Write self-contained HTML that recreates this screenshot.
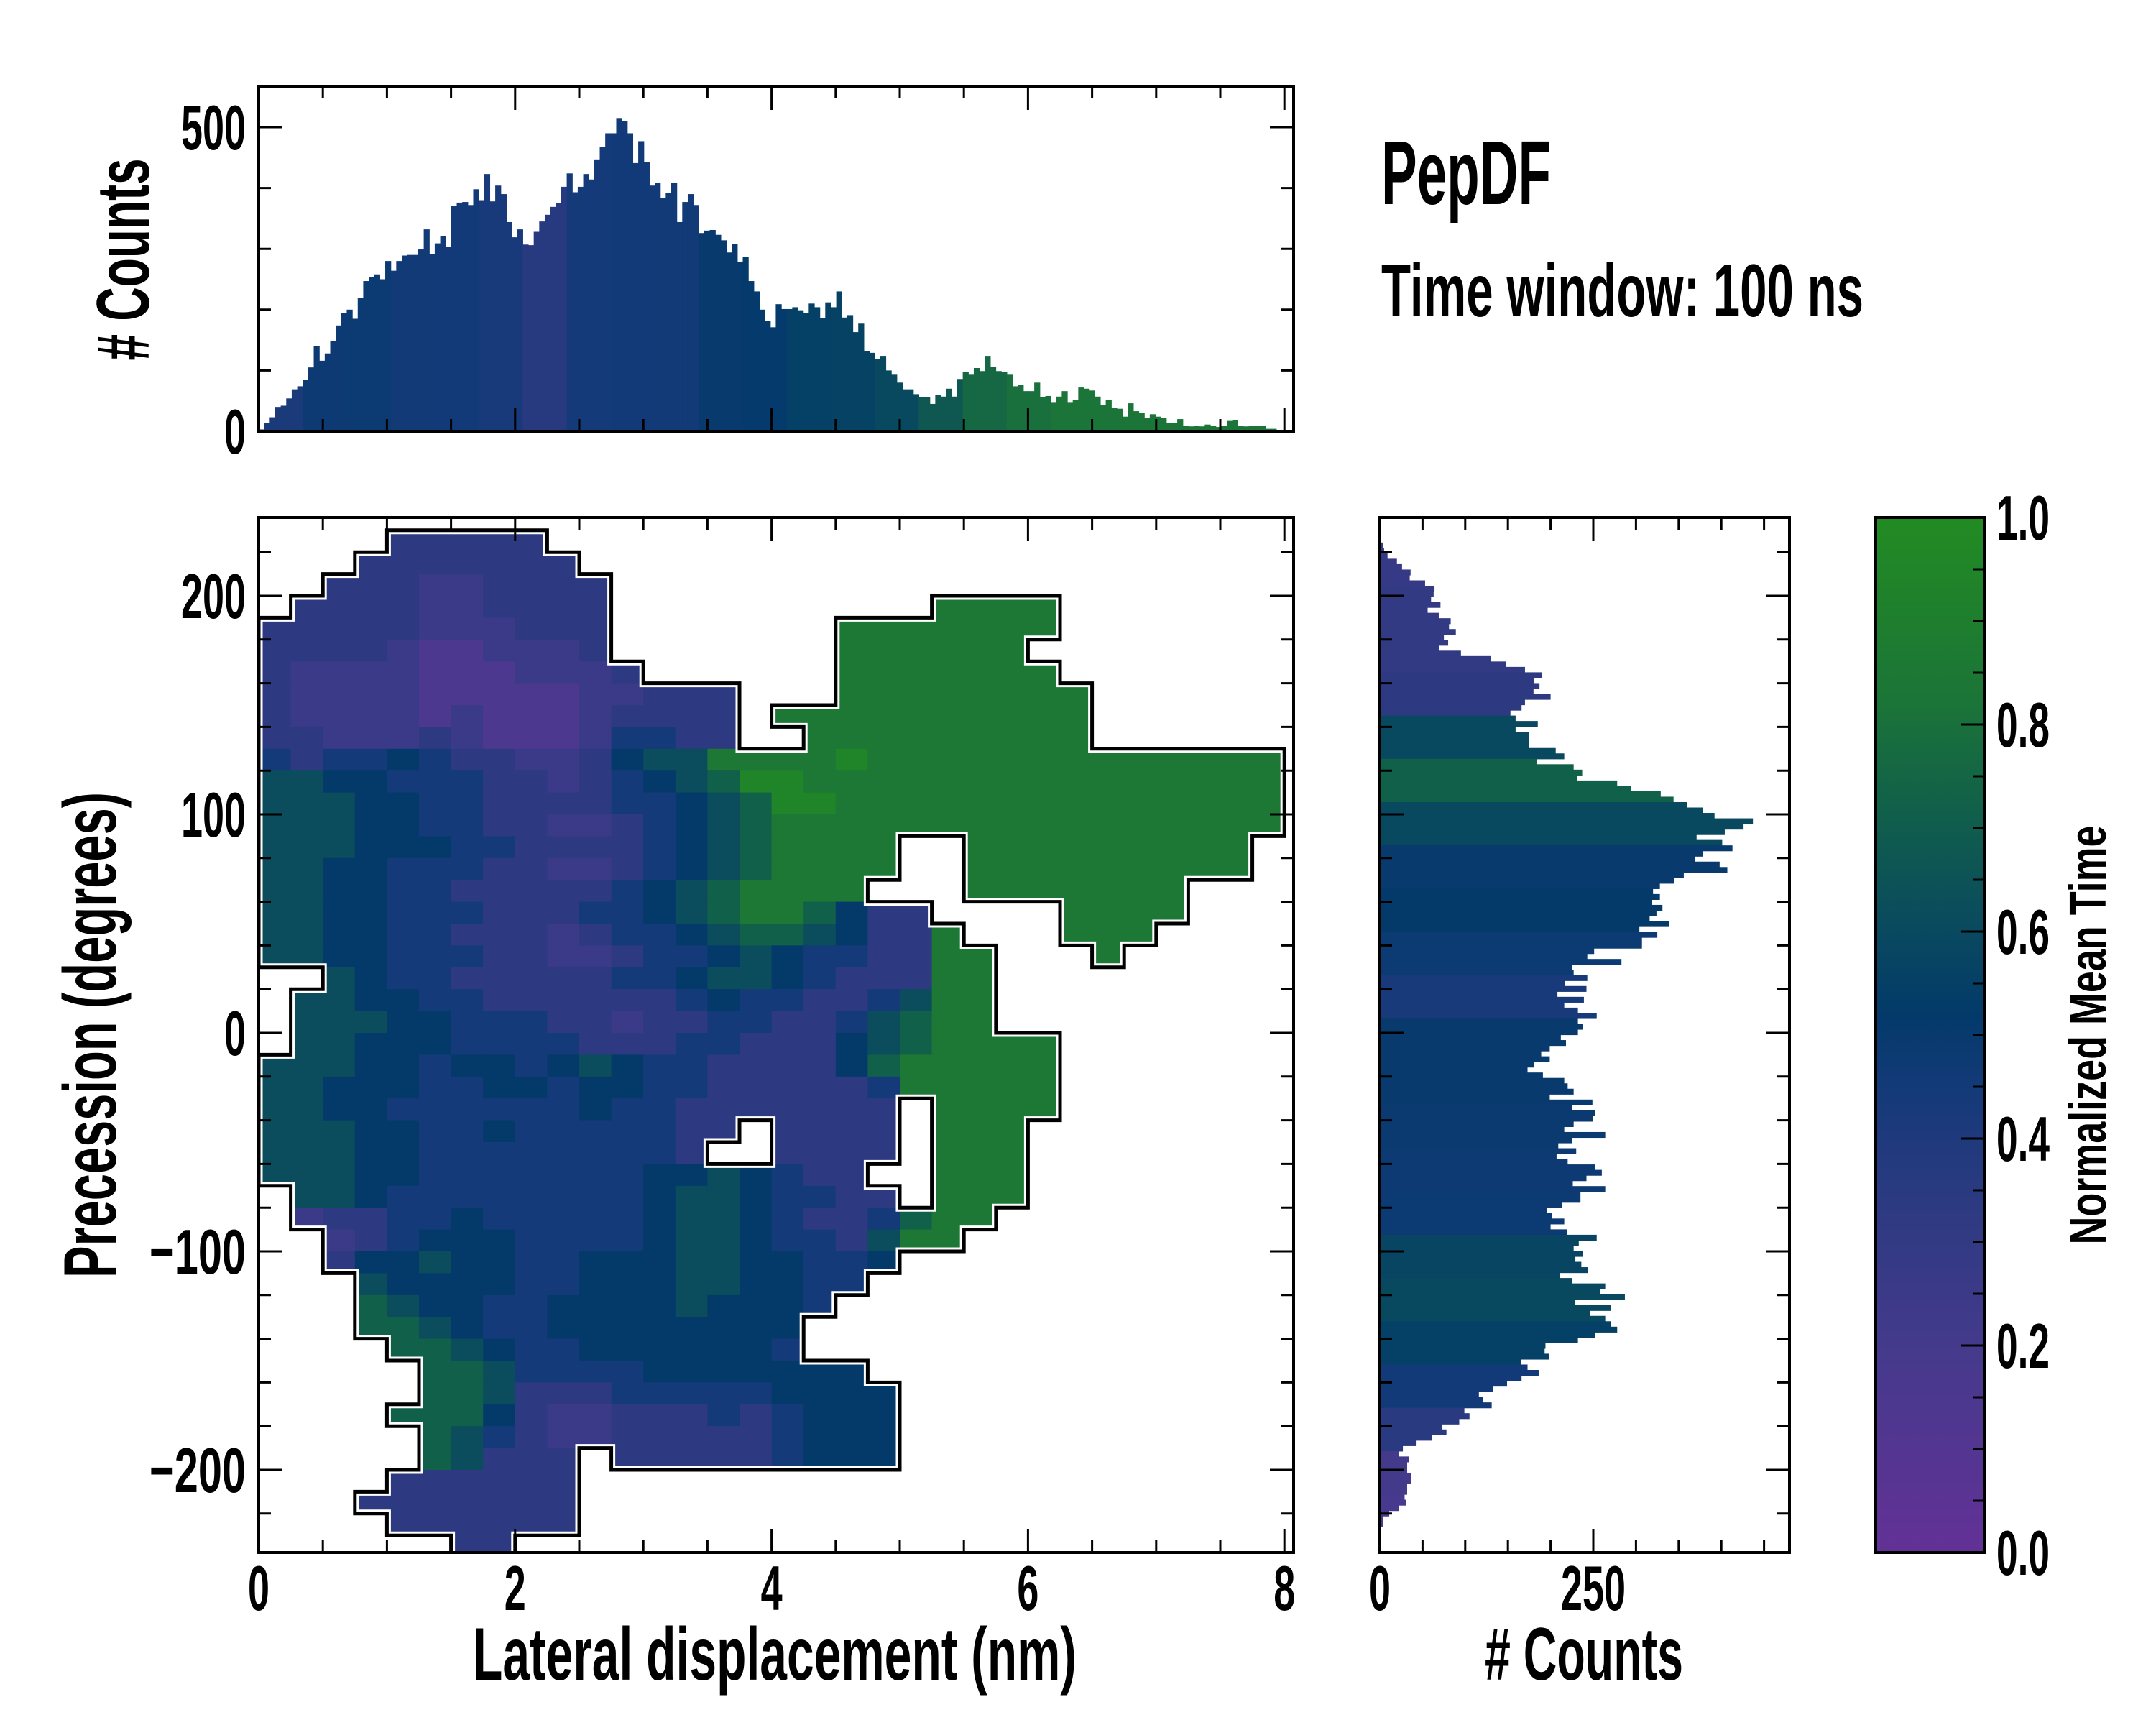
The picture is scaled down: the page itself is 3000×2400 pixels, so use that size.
<!DOCTYPE html>
<html><head><meta charset="utf-8"><title>PepDF</title>
<style>html,body{margin:0;padding:0;background:#fff}svg{display:block}
text{font-family:"Liberation Sans Narrow","Liberation Sans",sans-serif;font-weight:bold;fill:#000}</style></head>
<body>
<svg id="fig" xmlns="http://www.w3.org/2000/svg" width="3000" height="2400" viewBox="0 0 3000 2400">
<rect x="0" y="0" width="3000" height="2400" fill="#fff"/>
<defs>
<clipPath id="mainClip"><rect x="360" y="720" width="1440" height="1440"/></clipPath>
<linearGradient id="cbGrad" x1="0" y1="1" x2="0" y2="0">
<stop offset="0" stop-color="#633196"/><stop offset="0.2" stop-color="#443a8c"/><stop offset="0.35" stop-color="#2a3a80"/>
<stop offset="0.45" stop-color="#133a78"/><stop offset="0.52" stop-color="#033a6a"/><stop offset="0.62" stop-color="#0b4d5c"/>
<stop offset="0.72" stop-color="#11604a"/><stop offset="0.82" stop-color="#1b7438"/><stop offset="1" stop-color="#228b22"/>
</linearGradient>
</defs>
<g id="gTop"></g>
<g id="gMain" clip-path="url(#mainClip)"></g>
<g id="gRight"></g>
<g id="gCb">
<rect x="2610" y="720" width="151" height="1440" fill="url(#cbGrad)"/>
</g>
<g id="gAxes"></g>
<text x="1922" y="284" font-size="126" textLength="236" lengthAdjust="spacingAndGlyphs">PepDF</text>
<text x="1922" y="440" font-size="104" textLength="671" lengthAdjust="spacingAndGlyphs">Time window: 100 ns</text>
<text x="1078" y="2337" font-size="104" text-anchor="middle" textLength="840" lengthAdjust="spacingAndGlyphs">Lateral displacement (nm)</text>
<text x="2204" y="2337" font-size="104" text-anchor="middle" textLength="276" lengthAdjust="spacingAndGlyphs"># Counts</text>
<text transform="translate(161,1440) rotate(-90)" font-size="104" text-anchor="middle" textLength="676" lengthAdjust="spacingAndGlyphs">Precession (degrees)</text>
<text transform="translate(207,361) rotate(-90)" font-size="104" text-anchor="middle" textLength="281" lengthAdjust="spacingAndGlyphs"># Counts</text>
<text transform="translate(2930,1440) rotate(-90)" font-size="72" text-anchor="middle" textLength="583" lengthAdjust="spacingAndGlyphs">Normalized Mean Time</text>
</svg>
<script>
// ---------- data ----------
const topCounts = [3,14,23,40,42,54,69,74,85,105,140,116,128,149,174,195,200,185,219,247,254,258,250,280,264,280,289,290,290,299,332,291,309,321,303,371,376,377,372,398,380,423,378,404,390,344,319,332,307,306,328,345,356,369,375,402,424,393,402,423,414,447,468,490,490,515,510,
490,441,477,443,404,409,384,392,409,344,377,390,372,326,330,331,323,314,294,308,279,287,247,230,200,181,171,209,201,201,204,199,195,210,204,186,212,204,230,187,191,163,177,132,129,119,124,100,93,80,69,69,61,56,56,45,60,57,70,57,
86,98,93,104,99,124,106,99,97,93,74,76,66,66,80,56,58,48,57,66,48,51,72,70,67,57,43,51,38,37,24,46,33,30,22,28,24,22,14,13,20,9,8,9,8,11,9,7,9,17,18,9,8,9,9,9,4,4,0,0,2];
const topBinStart = 0;
const topBinWidth = 0.0429;
const topMeanGroups = [0.42,0.47,0.48,0.46,0.45,0.43,0.36,0.44,0.45,0.46,0.5,0.51,0.55,0.56,0.6,0.68,0.76,0.8,0.82,0.82,0.82,0.82,0.82,0.82];

const rightCounts = [4,5,9,20,26,36,35,53,64,63,60,71,56,69,83,81,89,75,80,69,95,130,148,170,190,181,187,180,200,170,166,153,159,185,159,175,175,175,206,216,184,227,237,231,278,294,329,344,360,378,392,437,426,404,371,401,413,378,369,398,407,356,345,328,320,328,319,331,324,316,339,304,325,307,307,251,243,283,225,227,243,217,242,208,239,216,232,254,232,238,232,212,218,199,189,199,181,173,191,216,220,227,199,249,225,252,250,227,216,264,225,209,230,207,220,252,260,242,226,264,235,235,213,196,202,216,200,219,254,233,227,238,229,236,244,211,225,264,258,287,229,271,246,264,271,278,252,232,194,193,198,165,173,186,166,149,133,116,121,131,99,105,93,73,78,61,43,27,22,34,32,32,37,37,32,32,29,31,22,11,4,4];
const rightBinTop = 224.4;
const rightBinWidth = 2.475;
const rightMeanGroups = [0.28,0.3,0.3,0.33,0.6,0.72,0.6,0.5,0.52,0.48,0.43,0.5,0.5,0.49,0.47,0.48,0.58,0.6,0.55,0.45,0.35,0.2,0.18];

// heatmap: rows from 240 deg downward in 10 deg steps, columns 0.25 nm; digit = mean-time level, '.' = empty
const heatCellW = 0.25;
const heatCellH = 10;
const heatTop = 240;
const levelValues = [0.08,0.15,0.25,0.33,0.44,0.52,0.62,0.72,0.85,0.95];
const heatRows = [
"................................",
"....33333.......................",
"...3333333......................",
"..333223333.....................",
".3333223333..........8888.......",
"33333222333.......8888888.......",
"33332112223.......888888........",
"322221112223......8888888.......",
"322221111122333...88888888......",
"322221211123333.8888888888......",
"332223211124433..888888888......",
"43445433223566888898888888888888",
"66554443323456799888888888888888",
"66655443333445679988888888888888",
"66655443322345678888888888888888",
"66655544333345678888..888888888.",
"66554443322345678888..888888888.",
"6655443333345678888...8888888...",
"665544433344567887533....8888...",
"6655443332344567765338...888....",
"66554443322344565443388...8.....",
"..654433333445665433388.........",
".6655443333334544334688.........",
".6665544433233443346788.........",
".665554444333443335678888.......",
"6665545545654433335788888.......",
"6655544554554433333488888.......",
"66554444445443333333.8888.......",
"666554454444433.3333.888........",
"66655444444443..3333.888........",
"6665544444445565433..888........",
".6654444444456654433.888........",
".2334454444456654334788.........",
"..23455544445665443688..........",
"..355655445556655445............",
"...6555544555665544.............",
"...765544555565554..............",
"...77654455555555...............",
"....7765445555554...............",
".....77644445555555.............",
".....776333444445555............",
"....7775322333434555............",
".....764322333334555............",
".....76333.333334555............",
"....333333......................",
"...3333333......................",
"....333333......................",
"......33........................"];

// tick values
const xMajorTicks = [0,2,4,6,8];
const xMinorTicks = [0.5,1,1.5,2.5,3,3.5,4.5,5,5.5,6.5,7,7.5];
const yMajorTicks = [-200,-100,0,100,200];
const yMinorTicks = [-220,-180,-160,-140,-120,-80,-60,-40,-20,20,40,60,80,120,140,160,180,220];
const topMajorTicks = [0,500];
const topMinorTicks = [100,200,300,400];
const rightMajorTicks = [0,250];
const rightMinorTicks = [50,100,150,200,300,350,400,450];
const cbMajorTicks = [0,0.2,0.4,0.6,0.8,1.0];
const cbMinorTicks = [0.05,0.1,0.15,0.25,0.3,0.35,0.45,0.5,0.55,0.65,0.7,0.75,0.85,0.9,0.95];
const xTickLabels = ["0","2","4","6","8"];
const yTickLabels = ["\u2212200","\u2212100","0","100","200"];
const topTickLabels = ["0","500"];
const rightTickLabels = ["0","250"];
const cbTickLabels = ["0.0","0.2","0.4","0.6","0.8","1.0"];

// ---------- scales ----------
const NS = "http://www.w3.org/2000/svg";
const X = v => 360 + v * 178.4;
const Y = v => 1437 - v * 3.04;
const TY = c => 600 - c * 0.846;
const RX = c => 1920 + c * 1.188;
const CBY = t => 2160 - t * 1440;
const cmapStops = [[0,[0x63,0x31,0x96]],[0.2,[0x44,0x3a,0x8c]],[0.35,[0x2a,0x3a,0x80]],[0.45,[0x13,0x3a,0x78]],[0.52,[0x03,0x3a,0x6a]],[0.62,[0x0b,0x4d,0x5c]],[0.72,[0x11,0x60,0x4a]],[0.82,[0x1b,0x74,0x38]],[1,[0x22,0x8b,0x22]]];
function cmap(t){
  t = Math.max(0, Math.min(1, t));
  for (let i = 1; i < cmapStops.length; i++) {
    if (t <= cmapStops[i][0]) {
      const a = cmapStops[i-1], b = cmapStops[i], f = (t - a[0]) / (b[0] - a[0]);
      const c = a[1].map((v, k) => Math.round(v + (b[1][k] - v) * f));
      return "rgb(" + c.join(",") + ")";
    }
  }
  return "rgb(34,139,34)";
}
function mk(tag, attrs, parent){
  const el = document.createElementNS(NS, tag);
  for (const k in attrs) el.setAttribute(k, attrs[k]);
  parent.appendChild(el);
  return el;
}
function textWidth(s){
  let w = 0;
  for (const ch of s) w += (ch === "." ? 14 : ch === "\u2212" ? 44 : 30);
  return w;
}

// ---------- top histogram ----------
const gTop = document.getElementById("gTop");
topCounts.forEach((c, i) => {
  const x0 = X(topBinStart + i * topBinWidth), x1 = X(topBinStart + (i + 1) * topBinWidth);
  const g = topMeanGroups[Math.min(topMeanGroups.length - 1, Math.floor(i / 8))];
  const r = mk("rect", {x: x0, y: TY(c), width: Math.max(0, x1 - x0 + 0.6), height: TY(0) - TY(c), fill: cmap(g)}, gTop);
  
  
});

// ---------- main heatmap ----------
const gMain = document.getElementById("gMain");
const nRows = heatRows.length, nCols = 32;
function filled(r, c){
  if (r < 0 || r >= nRows || c < 0 || c >= nCols) return false;
  const ch = heatRows[r][c];
  return ch !== undefined && ch !== ".";
}
for (let r = 0; r < nRows; r++) {
  for (let c = 0; c < nCols; c++) {
    if (!filled(r, c)) continue;
    const lv = levelValues[parseInt(heatRows[r][c], 10)];
    const x0 = X(c * heatCellW), x1 = X((c + 1) * heatCellW);
    const y0 = Y(heatTop - r * heatCellH), y1 = Y(heatTop - (r + 1) * heatCellH);
    const cell = mk("rect", {x: x0, y: y0, width: x1 - x0 + 0.6, height: y1 - y0 + 0.6, fill: cmap(lv)}, gMain);
    
    
  }
}
let d = "";
for (let r = 0; r < nRows; r++) {
  for (let c = 0; c < nCols; c++) {
    if (!filled(r, c)) continue;
    const x0 = X(c * heatCellW), x1 = X((c + 1) * heatCellW);
    const y0 = Y(heatTop - r * heatCellH), y1 = Y(heatTop - (r + 1) * heatCellH);
    if (!filled(r - 1, c)) d += `M${x0},${y0}H${x1}`;
    if (!filled(r + 1, c)) d += `M${x0},${y1}H${x1}`;
    if (!filled(r, c - 1)) d += `M${x0},${y0}V${y1}`;
    if (!filled(r, c + 1)) d += `M${x1},${y0}V${y1}`;
  }
}
const halo = mk("path", {d: d, fill: "none", stroke: "#fff", "stroke-width": 11, "stroke-linecap": "square"}, gMain);


const outline = mk("path", {d: d, fill: "none", stroke: "#000", "stroke-width": 5, "stroke-linecap": "square"}, gMain);



// ---------- right histogram ----------
const gRight = document.getElementById("gRight");
rightCounts.forEach((c, i) => {
  const yTop = Y(rightBinTop - i * rightBinWidth), yBot = Y(rightBinTop - (i + 1) * rightBinWidth);
  const g = rightMeanGroups[Math.min(rightMeanGroups.length - 1, Math.floor(i / 8))];
  const b = mk("rect", {x: RX(0), y: yTop, width: RX(c) - RX(0), height: yBot - yTop + 0.6, fill: cmap(g)}, gRight);
  
  
});

// ---------- axes ----------
const gAxes = document.getElementById("gAxes");
function frame(x, y, w, h, name){
  const f = mk("rect", {x: x, y: y, width: w, height: h, fill: "none", stroke: "#000", "stroke-width": 4}, gAxes);
  
  
}
function line(x1, y1, x2, y2, w, name){
  const l = mk("line", {x1: x1, y1: y1, x2: x2, y2: y2, stroke: "#000", "stroke-width": w}, gAxes);
  
  
}
function label(x, y, s, anchor, name){
  const t = mk("text", {x: x, y: y, "font-size": 88, "text-anchor": anchor, textLength: textWidth(s), lengthAdjust: "spacingAndGlyphs"}, gAxes);
  t.textContent = s;
  
  
}
const MAJ = 33, MIN = 17;
// top hist
frame(360, 120, 1440, 480, "top-hist-frame");
xMajorTicks.forEach(v => { line(X(v), 600, X(v), 600 - MAJ, 3, "top-x-major-tick"); line(X(v), 120, X(v), 120 + MAJ, 3, "top-x-major-tick"); });
xMinorTicks.forEach(v => { line(X(v), 600, X(v), 600 - MIN, 3, "top-x-minor-tick"); line(X(v), 120, X(v), 120 + MIN, 3, "top-x-minor-tick"); });
topMajorTicks.forEach((v, i) => { line(360, TY(v), 360 + MAJ, TY(v), 3, "top-y-major-tick"); line(1800, TY(v), 1800 - MAJ, TY(v), 3, "top-y-major-tick"); label(342, TY(v) + 31, topTickLabels[i], "end", "top-y-tick-label"); });
topMinorTicks.forEach(v => { line(360, TY(v), 360 + MIN, TY(v), 3, "top-y-minor-tick"); line(1800, TY(v), 1800 - MIN, TY(v), 3, "top-y-minor-tick"); });
// main
frame(360, 720, 1440, 1440, "main-frame");
xMajorTicks.forEach((v, i) => { line(X(v), 2160, X(v), 2160 - MAJ, 3, "main-x-major-tick"); line(X(v), 720, X(v), 720 + MAJ, 3, "main-x-major-tick"); label(X(v), 2240, xTickLabels[i], "middle", "x-tick-label"); });
xMinorTicks.forEach(v => { line(X(v), 2160, X(v), 2160 - MIN, 3, "main-x-minor-tick"); line(X(v), 720, X(v), 720 + MIN, 3, "main-x-minor-tick"); });
yMajorTicks.forEach((v, i) => { line(360, Y(v), 360 + MAJ, Y(v), 3, "main-y-major-tick"); line(1800, Y(v), 1800 - MAJ, Y(v), 3, "main-y-major-tick"); label(342, Y(v) + 31, yTickLabels[i], "end", "y-tick-label"); });
yMinorTicks.forEach(v => { line(360, Y(v), 360 + MIN, Y(v), 3, "main-y-minor-tick"); line(1800, Y(v), 1800 - MIN, Y(v), 3, "main-y-minor-tick"); });
// right hist
frame(1920, 720, 570, 1440, "right-hist-frame");
rightMajorTicks.forEach((v, i) => { line(RX(v), 2160, RX(v), 2160 - MAJ, 3, "right-x-major-tick"); line(RX(v), 720, RX(v), 720 + MAJ, 3, "right-x-major-tick"); label(RX(v), 2240, rightTickLabels[i], "middle", "right-x-tick-label"); });
rightMinorTicks.forEach(v => { line(RX(v), 2160, RX(v), 2160 - MIN, 3, "right-x-minor-tick"); line(RX(v), 720, RX(v), 720 + MIN, 3, "right-x-minor-tick"); });
yMajorTicks.forEach(v => { line(1920, Y(v), 1920 + MAJ, Y(v), 3, "right-y-major-tick"); line(2490, Y(v), 2490 - MAJ, Y(v), 3, "right-y-major-tick"); });
yMinorTicks.forEach(v => { line(1920, Y(v), 1920 + MIN, Y(v), 3, "right-y-minor-tick"); line(2490, Y(v), 2490 - MIN, Y(v), 3, "right-y-minor-tick"); });
// colorbar
frame(2610, 720, 151, 1440, "colorbar-frame");
cbMajorTicks.forEach((v, i) => { line(2761, CBY(v), 2761 - 32, CBY(v), 3, "colorbar-major-tick"); label(2778, CBY(v) + 31, cbTickLabels[i], "start", "colorbar-tick-label"); });
cbMinorTicks.forEach(v => { line(2761, CBY(v), 2761 - 16, CBY(v), 3, "colorbar-minor-tick"); });
</script>
</body></html>
